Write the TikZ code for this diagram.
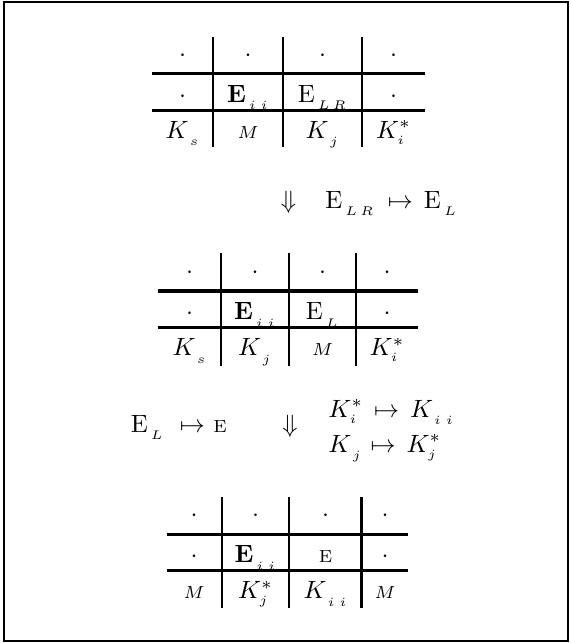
\documentclass[tikz,border=0pt]{standalone}
\usepackage{amsmath,amssymb}
\usepackage{tikz}
\usetikzlibrary{positioning}

\newcommand{\lowidx}[1]{_{\kern1.2pt\lower1.6pt\hbox{$\scriptscriptstyle #1$}}}

\begin{document}
\begin{tikzpicture}[x=0.4pt,y=-0.4pt,
  cell/.style={inner sep=0pt,anchor=base},
  lbl/.style={inner sep=0pt},
  hl/.style={line width=1.3pt},
  vl/.style={line width=0.8pt}]
 \useasboundingbox (0,0) rectangle (571,643);
 % frame
 \draw[vl] (4,2) rectangle (568,641);
 % first table
 \foreach \x/\a/\b/\c [count=\i] in {
   182.5/{$\cdot$}/{$\cdot$}/{$K\lowidx{s}$},
   248/{$\cdot$}/{$\mathbf{E}\lowidx{i\;i}$}/{$\scriptstyle M$},
   322.5/{$\cdot$}/{$\mathrm{E}\lowidx{L\,R}$}/{$K\lowidx{j}$},
   393.5/{$\cdot$}/{$\cdot$}/{$K^{*}_{\scriptscriptstyle i}$}} {
   \node[cell] (ta-\i-1) at (\x,61) {\a};
   \node[cell] (ta-\i-2) at (\x,102) {\b};
   \node[cell] (ta-\i-3) at (\x,138) {\c};
 }
 \draw[hl] (152,73.7) -- (425,73.7) (152,110.3) -- (425,110.3);
 \foreach \x in {213,283,362} \draw[vl] (\x,37) -- (\x,147);
 % first step
 \node[cell] (dn1) at (288.5,208) {$\Downarrow$};
 \node[cell] (mp1) at (400.5,208) {$\mapsto$};
 \node[lbl,base left=5pt of mp1] (elr) {$\mathrm{E}\lowidx{L\,R}$};
 \node[lbl,base right=4pt of mp1] (el) {$\mathrm{E}\lowidx{L}$};
 % second table
 \foreach \x/\a/\b/\c [count=\i] in {
   189.5/{$\cdot$}/{$\cdot$}/{$K\lowidx{s}$},
   255/{$\cdot$}/{$\mathbf{E}\lowidx{i\;i}$}/{$K\lowidx{j}$},
   322.5/{$\cdot$}/{$\mathrm{E}\lowidx{L}$}/{$\scriptstyle M$},
   387/{$\cdot$}/{$\cdot$}/{$K^{*}_{\scriptscriptstyle i}$}} {
   \node[cell] (tb-\i-1) at (\x,278) {\a};
   \node[cell] (tb-\i-2) at (\x,319.7) {\b};
   \node[cell] (tb-\i-3) at (\x,355.7) {\c};
 }
 \draw[hl] (158,291) -- (418,291) (158,327.7) -- (418,327.7);
 \foreach \x in {221,289,356} \draw[vl] (\x,253) -- (\x,366);
 % second step
 \node[cell] (mp2) at (192.5,432) {$\mapsto$};
 \node[lbl,base left=6pt of mp2] (el2) {$\mathrm{E}\lowidx{L}$};
 \node[lbl,base right=3pt of mp2] (e2) {$\scriptstyle\mathrm{E}$};
 \node[cell] (dn2) at (290,432) {$\Downarrow$};
 \node[cell,anchor=base west] (ki) at (328,417) {$K^{*}_{\scriptscriptstyle i}$};
 \node[lbl,base right=4pt of ki] (mp3) {$\mapsto$};
 \node[lbl,base right=4pt of mp3] (kii) {$K\lowidx{i\;i}$};
 \node[cell,anchor=base west] (kj) at (328,452) {$K\lowidx{j}$};
 \node[lbl,base right=3pt of kj] (mp4) {$\mapsto$};
 \node[lbl,base right=4pt of mp4] (kjs) {$K^{*}_{\scriptscriptstyle j}$};
 % third table
 \foreach \x/\a/\b/\c [count=\i] in {
   194/{$\cdot$}/{$\cdot$}/{$\scriptstyle M$},
   255.5/{$\cdot$}/{$\mathbf{E}\lowidx{i\;i}$}/{$K^{*}_{\scriptscriptstyle j}$},
   325.5/{$\cdot$}/{$\scriptstyle\mathrm{E}$}/{$K\lowidx{i\;i}$},
   385/{$\cdot$}/{$\cdot$}/{$\scriptstyle M$}} {
   \node[cell] (tc-\i-1) at (\x,521.6) {\a};
   \node[cell] (tc-\i-2) at (\x,562.7) {\b};
   \node[cell] (tc-\i-3) at (\x,598.7) {\c};
 }
 \draw[hl] (167,534.3) -- (408,534.3) (167,570.7) -- (408,570.7);
 \foreach \x in {221.7,289.3} \draw[vl] (\x,497) -- (\x,608);
 \draw[hl] (361.7,497) -- (361.7,608);
\end{tikzpicture}
\end{document}
